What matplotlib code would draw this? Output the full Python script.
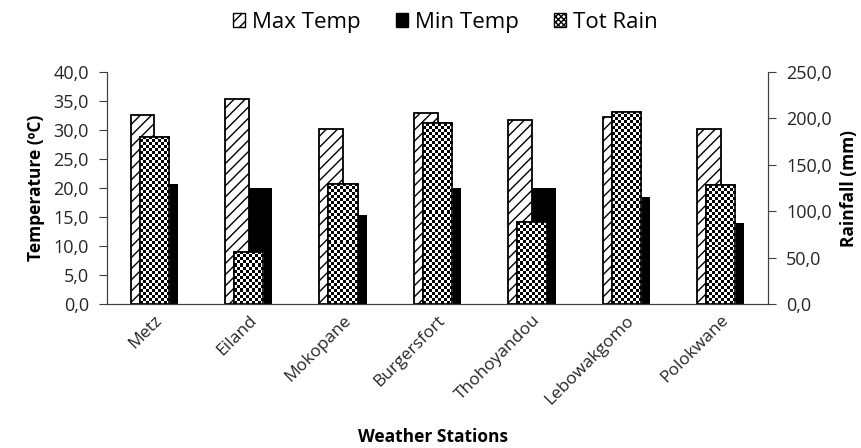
import matplotlib.pyplot as plt
import matplotlib.ticker as mticker
import numpy as np
from matplotlib.patches import Patch

plt.rcParams['font.family'] = ['Open Sans', 'DejaVu Sans']
plt.rcParams['hatch.linewidth'] = 1.0

# Station data
stations = ['Metz', 'Eiland', 'Mokopane', 'Burgersfort', 'Thohoyandou',
            'Lebowakgomo', 'Polokwane']
max_temp = [32.6, 35.3, 30.1, 33.0, 31.8, 32.2, 30.1]
min_temp = [20.7, 20.0, 15.3, 20.0, 20.0, 18.4, 13.9]
tot_rain = [180.3, 56.4, 129.3, 194.7, 88.0, 207.2, 128.2]


def comma_fmt(v, pos):
    return f"{v:.1f}".replace('.', ',')


fig = plt.figure(figsize=(8.61, 4.48), dpi=100)
ax = fig.add_axes([0.1243, 0.3214, 0.7677, 0.5179])
ax2 = ax.twinx()

x = np.arange(len(stations))
w = 0.25

ax.bar(x - w / 2, max_temp, w, facecolor='white', edgecolor='black',
       hatch='///', linewidth=1.3, zorder=2)
ax.bar(x + w / 2, min_temp, w, color='black', zorder=2)
rain_bars = ax2.bar(x, tot_rain, 0.31, facecolor='white', edgecolor='black',
                    linewidth=1.2, zorder=3)

ax.set_xlim(-0.5, len(stations) - 0.5)
ax.set_ylim(0, 40)
ax2.set_ylim(0, 250)

# checkerboard fill for the rainfall bars, clipped to each bar
cell = 3.0  # pixels
for bar in rain_bars:
    x0, y0 = bar.get_x(), bar.get_y()
    bw, bh = bar.get_width(), bar.get_height()
    p0 = ax2.transData.transform((x0, y0))
    p1 = ax2.transData.transform((x0 + bw, y0 + bh))
    nx = max(1, int(round((p1[0] - p0[0]) / cell)))
    ny = max(1, int(round((p1[1] - p0[1]) / cell)))
    board = (np.add.outer(np.arange(ny), np.arange(nx)) % 2).astype(float)
    img = ax2.imshow(board, cmap='gray', vmin=0, vmax=1, aspect='auto',
                     interpolation='nearest', origin='lower',
                     extent=(x0, x0 + bw, y0, y0 + bh), zorder=3.5)
    img.set_clip_path(bar)
    edge = plt.Rectangle((x0, y0), bw, bh, fill=False, edgecolor='black',
                         linewidth=1.2, zorder=4)
    ax2.add_patch(edge)

ax2.set_xlim(-0.5, len(stations) - 0.5)
ax2.set_ylim(0, 250)
ax.yaxis.set_major_locator(mticker.MultipleLocator(5))
ax2.yaxis.set_major_locator(mticker.MultipleLocator(50))
ax.yaxis.set_major_formatter(mticker.FuncFormatter(comma_fmt))
ax2.yaxis.set_major_formatter(mticker.FuncFormatter(comma_fmt))

for a in (ax, ax2):
    a.spines['top'].set_visible(False)
    a.tick_params(axis='y', labelsize=13, colors='#404040',
                  length=6, width=0.8, pad=7)
    a.tick_params(axis='y', labelcolor='#262626')
    for s in ('left', 'right', 'bottom'):
        a.spines[s].set_color('#404040')
ax.tick_params(axis='x', length=0, pad=6)
ax.set_xticks(x)
ax.set_xticklabels(stations, rotation=45, ha='right', rotation_mode='anchor',
                   fontsize=12.5, color='#262626')

ax.set_ylabel('Temperature (ºC)', fontsize=12.5, fontweight='bold', labelpad=6)
ax2.set_ylabel('Rainfall (mm)', fontsize=12.5, fontweight='bold', labelpad=6)
fig.text(433 / 861, 1 - 437 / 448, 'Weather Stations', ha='center',
         va='center', fontsize=12.5, fontweight='bold')

handles = [
    Patch(facecolor='white', edgecolor='black', hatch='///', label='Max Temp'),
    Patch(facecolor='black', edgecolor='black', label='Min Temp'),
    Patch(facecolor='white', edgecolor='black', hatch='xxxxxx', label='Tot Rain'),
]
fig.legend(handles=handles, loc='center', bbox_to_anchor=(0.517, 0.95),
           ncol=3, frameon=False, fontsize=16, handlelength=0.55,
           handleheight=0.55, columnspacing=1.6, handletextpad=0.3)

fig.savefig('out.png', dpi=100)
